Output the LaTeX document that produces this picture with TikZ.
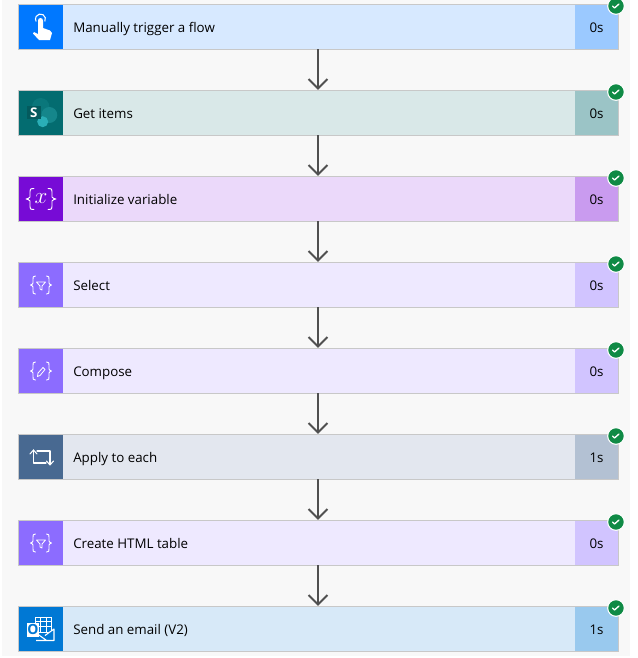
\documentclass[tikz,border=0pt]{standalone}
\usepackage{fontspec}
\setmainfont{Open Sans}
\usetikzlibrary{positioning, calc}
\definecolor{pagebg}{HTML}{F8F8F8}
\definecolor{edgegray}{HTML}{C8C8C8}
\definecolor{arrowgray}{HTML}{505050}
\definecolor{okgreen}{HTML}{0F8A45}
\definecolor{triggerA}{HTML}{0078FF}\definecolor{triggerB}{HTML}{D7E9FF}\definecolor{triggerC}{HTML}{9BC9FF}
\definecolor{spA}{HTML}{036C70}\definecolor{spB}{HTML}{D9E8E8}\definecolor{spC}{HTML}{9BC4C6}
\definecolor{spbig}{HTML}{0A777B}\definecolor{spright}{HTML}{15868B}\definecolor{splow}{HTML}{2AAEB6}\definecolor{spsquare}{HTML}{045A5D}
\definecolor{varA}{HTML}{770BD6}\definecolor{varB}{HTML}{EBD9FA}\definecolor{varC}{HTML}{C99BEF}
\definecolor{dataA}{HTML}{8C6CFF}\definecolor{dataB}{HTML}{EEE9FF}\definecolor{dataC}{HTML}{D1C4FF}
\definecolor{loopA}{HTML}{486991}\definecolor{loopB}{HTML}{E3E7EF}\definecolor{loopC}{HTML}{B3C1D3}
\definecolor{mailA}{HTML}{0078D4}\definecolor{mailB}{HTML}{D7E9F8}\definecolor{mailC}{HTML}{99C9EE}
\tikzset{
 px/.style={x=0.75pt,y=-0.75pt},
 title/.style={font=\fontsize{10pt}{12pt}\selectfont,anchor=base west,inner sep=0pt,text=black},
 secs/.style={font=\fontsize{10pt}{12pt}\selectfont,anchor=base,inner sep=0pt,text=black},
 flow/.style={draw=arrowgray,line width=1.5pt},
 glyph/.style={draw=white,line width=0.7pt,line cap=round,line join=round},
 badge/.style={circle,fill=okgreen,draw=white,line width=0.8pt,minimum size=12.5pt,inner sep=0pt},
}
% one action: card, icon tile, title, run time, check badge
\newcommand{\stepcard}[5]{%
 \fill[#3B] (18,#2) rectangle (618,#2+45);
 \fill[#3A] (19,#2+1) rectangle (63,#2+45);
 \fill[#3C] (575,#2) rectangle (618,#2+45);
 \draw[edgegray,line width=0.75pt] (18,#2+45) -- (18,#2) -- (618,#2) -- (618,#2+45) -- cycle;
 \node[title] (#1title) at (73,#2+28) {#4};
 \node[secs] (#1time) at (596.5,#2+28) {#5};
 \coordinate (#1top) at (318,#2);
 \coordinate (#1bottom) at (318,#2+45);
 \coordinate (#1icon) at (41,#2+23);
 \node[badge] (#1ok) at (616,#2+2) {};
 \draw[white,line width=1pt,line cap=round,line join=round] ($(#1ok)+(-3.5,0)$) -- ++(2,2) -- ++(4.5,-4);
}
% curly braces: centre, outer x, inner x, half height
\newcommand{\braces}[4]{%
 \begin{scope}[shift={(#1)}]
  \foreach \s in {-1,1}
   \draw[glyph,xscale=\s] (#3,-#4) .. controls ({(#2+#3)/2},-#4) and ({(#2+#3)/2},-#4+1) .. ({(#2+#3)/2},-#4+3)
    -- ({(#2+#3)/2},-2) .. controls ({(#2+#3)/2},-0.7) and (#2-0.5,0) .. (#2,0)
    .. controls (#2-0.5,0) and ({(#2+#3)/2},0.7) .. ({(#2+#3)/2},2)
    -- ({(#2+#3)/2},#4-3) .. controls ({(#2+#3)/2},#4-1) and ({(#2+#3)/2},#4) .. (#3,#4);
 \end{scope}
}
\newcommand{\funnel}[1]{%
 \draw[glyph,line width=0.6pt] ($(#1)+(-4.5,-3)$) -- ($(#1)+(4.5,-3)$) -- ($(#1)+(1,1)$) -- ($(#1)+(1,5)$) -- ($(#1)+(-1,4)$) -- ($(#1)+(-1,1)$) -- cycle;
}
\begin{document}
\begin{tikzpicture}[px]
 \useasboundingbox (0,0) rectangle (637,658);
 \fill[white] (0,0) rectangle (637,658);
 \fill[pagebg] (2,0) rectangle (630,656);

 \stepcard{manual}{4}{trigger}{Manually trigger a flow}{0s}
 \stepcard{items}{90}{sp}{Get items}{0s}
 \stepcard{init}{176}{var}{Initialize variable}{0s}
 \stepcard{select}{262}{data}{Select}{0s}
 \stepcard{compose}{348}{data}{Compose}{0s}
 \stepcard{apply}{434}{loop}{Apply to each}{1s}
 \stepcard{table}{520}{data}{Create HTML table}{0s}
 \stepcard{email}{606}{mail}{Send an email (V2)}{1s}

 % arrows between the cards
 \foreach \a/\b in {manual/items,items/init,init/select,select/compose,compose/apply,apply/table,table/email}{
  \draw[flow] (\a bottom) -- ($(\b top)+(0,-1.5)$);
  \draw[flow] ($(\b top)+(-9.5,-11)$) -- ($(\b top)+(0,-1.5)$) -- ($(\b top)+(9.5,-11)$);
 }

 % hand
 \fill[white] (38,30) -- (38,20.5) arc[start angle=180,end angle=360,radius=2.5] -- (43,28) -- (50,30.5) -- (52,33) -- (50,40) -- (39,40) -- (33,33.5) -- (34,32) -- (38,34) -- cycle;
 \draw[white,line width=0.8pt] (44.8,21.5) arc[start angle=30,end angle=-210,radius=5];

 % list site icon
 \fill[spbig] (40.7,106.7) circle[radius=8.7];
 \fill[spright] (49.3,115) circle[radius=8];
 \fill[splow] (42.7,121.7) circle[radius=5.5];
 \fill[spsquare] (26.7,105.7) rectangle (40.7,119);
 \node[font=\bfseries\fontsize{10pt}{10pt}\selectfont,text=white,inner sep=0pt] (spletter) at (33.7,112.4) {S};

 % variable
 \braces{initicon}{15}{7}{10.5}
 \node[font=\fontsize{16pt}{16pt}\selectfont,text=white,inner sep=0pt] (varletter) at (41,198.5) {$x$};

 % data operations
 \braces{selecticon}{10.5}{5.5}{9}
 \funnel{selecticon}
 \braces{composeicon}{10.5}{5.5}{9}
 \draw[glyph,line width=0.6pt] ($(composeicon)+(-3.5,5.5)$) -- ($(composeicon)+(-3,2)$) -- ($(composeicon)+(2,-3.5)$) -- ($(composeicon)+(4,-1.5)$) -- ($(composeicon)+(-1,4.5)$) -- cycle;
 \braces{tableicon}{10.5}{5.5}{9}
 \funnel{tableicon}

 % loop
 \draw[glyph,line width=0.8pt] (33.5,450) -- (33.5,463) -- (46,463);
 \draw[glyph,line width=0.8pt] (37,451) -- (50,451) -- (50,464.5);
 \draw[glyph,line width=0.8pt] (30,454) -- (33.5,450) -- (37,454);
 \draw[glyph,line width=0.8pt] (46.5,461) -- (50,465) -- (53.5,461);

 % mail
 \draw[white,line width=0.7pt] (35,617) rectangle (51,632);
 \draw[white,line width=0.6pt] (40.5,617) -- (40.5,632) (46,617) -- (46,632) (35,621.5) -- (51,621.5) (35,626.5) -- (51,626.5);
 \fill[mailA] (36,640.5) -- (36,632) -- (44,636) -- (54,629) -- (54,640.5) -- cycle;
 \draw[white,line width=0.8pt,line join=round] (36,640.5) -- (54,640.5) -- (54,629) -- (45,635.5) (36,633) -- (46,640);
 \fill[white] (26.7,623) rectangle (39.3,636.5);
 \node[font=\bfseries\fontsize{10.5pt}{10.5pt}\selectfont,text=mailA,inner sep=0pt] (mailletter) at (33,629.7) {O};
\end{tikzpicture}
\end{document}
